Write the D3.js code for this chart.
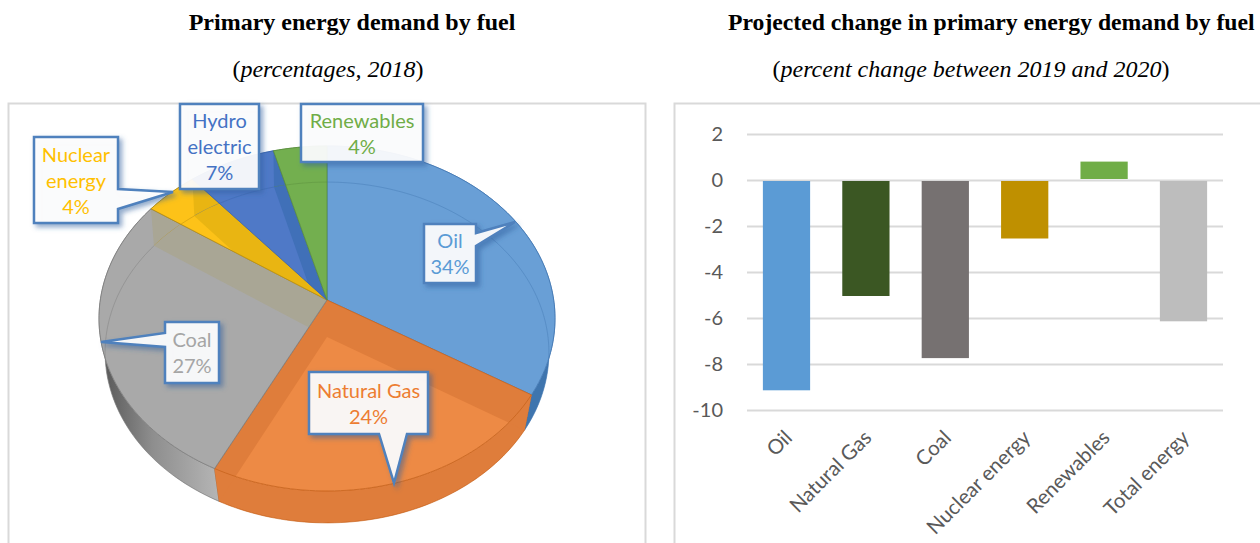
<!DOCTYPE html>
<html><head><meta charset="utf-8">
<script src="https://cdn.jsdelivr.net/npm/d3@7"></script>
<style>html,body{margin:0;padding:0;background:#fff;overflow:hidden}svg{display:block}
.cal{font-family:Lato,"Open Sans",sans-serif}
.ti{font-family:"Liberation Serif",serif;font-size:24px;fill:#000}
</style></head><body>
<svg id="c" width="1260" height="543"></svg>
<script>
// ---- data ----
const pieFuels = ["Oil","Natural Gas","Coal","Nuclear energy","Hydro electric","Renewables"];
const pieShares = [33.8,23.6,27.2,4.3,6.9,4.2];
const barFuels = ["Oil","Natural Gas","Coal","Nuclear energy","Renewables","Total energy"];
const barChanges = [-9.1,-5.0,-7.7,-2.5,0.8,-6.1];
const yTicks = [2,0,-2,-4,-6,-8,-10];

// ---- styles ----
const pieStyle = {
 "Oil":{top:"#699fd6",side:"#3f75ae",rim:"#4479b4",label:"#5b9bd5"},
 "Natural Gas":{top:"#ed8a45",side:"#df7d3b",rim:"#c9651f",label:"#ed7d31",band:"#df7d3b"},
 "Coal":{top:"#a9a9a9",side:"url(#coalSide)",rim:"#7f7f7f",label:"#a5a5a5",band:"#a9a695"},
 "Nuclear energy":{top:"#fdc218",side:"#d9a50c",rim:"#b98f10",label:"#ffc000",band:"#e9b512"},
 "Hydro electric":{top:"#4f79c7",side:"#3a64ad",rim:"#3c66ae",label:"#4472c4",band:"#4070b8"},
 "Renewables":{top:"#73af4f",side:"#5f9440",rim:"#5b8f3e",label:"#70ad47"}
};
const barColors = ["#5b9bd5","#3b5723","#767171","#bf9000","#70ad47","#bdbdbd"];

const svg = d3.select("#c");
const defs = svg.append("defs");
const f = defs.append("filter").attr("id","sh").attr("x","-30%").attr("y","-30%").attr("width","170%").attr("height","170%");
f.append("feDropShadow").attr("dx",3).attr("dy",3).attr("stdDeviation",2.5).attr("flood-color","#2f5f9c").attr("flood-opacity",.55);
const g0 = defs.append("linearGradient").attr("id","coalSide").attr("gradientUnits","userSpaceOnUse")
  .attr("x1",100).attr("x2",217).attr("y1",0).attr("y2",0);
g0.append("stop").attr("offset",0).attr("stop-color","#555");
g0.append("stop").attr("offset",.45).attr("stop-color","#8e8e8e");
g0.append("stop").attr("offset",1).attr("stop-color","#b4b4b4");

// ---- titles ----
const title=(x,y,parts,bold)=>{const t=svg.append("text").attr("class","ti").attr("x",x).attr("y",y).attr("text-anchor","middle");
 parts.forEach(p=>t.append("tspan").text(p[0]).attr("font-style",p[1]?"italic":"normal").attr("font-weight",bold?"bold":"normal"));};
title(352,30,[["Primary energy demand by fuel",0]],true);
title(328,77,[["(",0],["percentages, 2018",1],[")",0]]);
svg.append("text").attr("class","ti").attr("x",728).attr("y",30).attr("font-weight","bold").style("font-size","23.7px").text("Projected change in primary energy demand by fuel");
title(971,77,[["(",0],["percent change between 2019 and 2020",1],[")",0]]);

// ---- panels ----
svg.append("rect").attr("x",8.5).attr("y",103.5).attr("width",637).attr("height",460).attr("fill","#fff").attr("stroke","#d9d9d9").attr("stroke-width",2);
svg.append("rect").attr("x",674.5).attr("y",103.5).attr("width",640).attr("height",460).attr("fill","#fff").attr("stroke","#d9d9d9").attr("stroke-width",2);

// ---- 3D pie: perspective projection of a disc ----
const proj=(cx,cy,A,B,c)=>a=>{const u=Math.sin(a),v=-Math.cos(a),d=1-c*v;return [cx+A*u/d,cy+B*v/d];};
const topP=proj(327,300,226.7,170.5,.1071), botP=proj(327,337,221,169,.0909);
const apexT=[327,300], apexB=[327,337];
const arcs=d3.pie().sort(null)(pieShares).map((d,i)=>({...d,name:pieFuels[i]}));
const line=d3.line();
const samples=(a0,a1,fn)=>{const n=Math.max(6,Math.ceil((a1-a0)*40));return d3.range(n+1).map(i=>fn(a0+(a1-a0)*i/n));};
const topPath=d=>line([apexT,...samples(d.startAngle,d.endAngle,topP)])+"Z";
const sidePath=d=>line([...samples(d.startAngle,d.endAngle,topP),...samples(d.startAngle,d.endAngle,botP).reverse()])+"Z";
const pg=svg.append("g");

// side walls: back to front
["Oil","Coal","Natural Gas","Renewables","Hydro electric","Nuclear energy"].forEach(n=>{
 const d=arcs.find(a=>a.name===n),s=pieStyle[n];
 pg.append("path").attr("d",sidePath(d)).attr("fill",s.side).attr("stroke",s.rim).attr("stroke-width",.6);
});
// top faces + see-through bands
arcs.forEach((d,i)=>{
 const s=pieStyle[d.name];
 const cid="clip"+i;
 const cp=defs.append("clipPath").attr("id",cid);
 cp.append("path").attr("d",topPath(d));
 cp.append("path").attr("d",sidePath(d));
 pg.append("path").attr("d",topPath(d)).attr("fill",s.top);
 const sg=pg.append("g").attr("clip-path",`url(#${cid})`);
 // wall seen through the face, along each radial edge
 if(s.band){
  const band=a=>line([apexT,topP(a),botP(a),apexB])+"Z";
  const edges=d.name==="Natural Gas"?[d.startAngle,d.endAngle]:[d.endAngle];
  edges.forEach(a=>sg.append("path").attr("d",band(a)).attr("fill",s.band));
 }
 // far rim of the lower face, seen through
 sg.append("path").attr("d",line(samples(d.startAngle,d.endAngle,botP))).attr("fill","none")
   .attr("stroke",s.rim).attr("stroke-opacity",.45).attr("stroke-width",1);
 pg.append("path").attr("d",topPath(d)).attr("fill","none").attr("stroke",s.rim).attr("stroke-width",1).attr("stroke-opacity",.85);
});

// ---- callouts ----
const callouts=[
 {name:"Nuclear energy",lines:["Nuclear","energy","4%"],x:34,y:137,w:84,h:86,side:"r",b0:52,b1:72,tip:[173,192]},
 {name:"Hydro electric",lines:["Hydro","electric","7%"],x:180,y:104,w:79,h:85},
 {name:"Renewables",lines:["Renewables","4%"],x:301,y:104,w:122,h:58},
 {name:"Oil",lines:["Oil","34%"],x:424,y:224,w:52,h:59,side:"r",b0:9,b1:22,tip:[515,222]},
 {name:"Coal",lines:["Coal","27%"],x:165,y:322,w:54,h:61,side:"l",b0:11,b1:25,tip:[101,342]},
 {name:"Natural Gas",lines:["Natural Gas","24%"],x:309,y:372,w:119,h:62,side:"b",b0:70,b1:98,tip:[394,483]}
];
const share=Object.fromEntries(pieFuels.map((n,i)=>[n,Math.round(pieShares[i])]));
callouts.forEach(c=>{
 const {x,y,w,h}=c, pts=[[x,y],[x+w,y]];
 if(c.side==="r")pts.push([x+w,y+c.b0],c.tip,[x+w,y+c.b1]);
 pts.push([x+w,y+h]);
 if(c.side==="b")pts.push([x+c.b1,y+h],c.tip,[x+c.b0,y+h]);
 pts.push([x,y+h]);
 if(c.side==="l")pts.push([x,y+c.b1],c.tip,[x,y+c.b0]);
 svg.append("path").attr("d",line(pts)+"Z").attr("fill","#fff").attr("fill-opacity",.91)
   .attr("stroke","#4f81bd").attr("stroke-width",2.5).attr("stroke-linejoin","miter").attr("filter","url(#sh)");
 const lh=26, y0=y+h/2-(c.lines.length-1)*lh/2+7.5;
 c.lines.forEach((t,i)=>svg.append("text").attr("class","cal").attr("x",x+w/2).attr("y",y0+i*lh)
   .attr("text-anchor","middle").attr("font-size",20).attr("fill",pieStyle[c.name].label)
   .text(i===c.lines.length-1?share[c.name]+"%":t));
});

// ---- bar chart ----
const x=d3.scaleBand().domain(barFuels).range([747,1223]).paddingInner(.405).paddingOuter(.2);
const y=d3.scaleLinear().domain([-10,2]).range([410,134]);
const yAx=svg.append("g").attr("transform","translate(747,0)")
  .call(d3.axisLeft(y).tickValues(yTicks).tickSize(-476).tickPadding(24).tickFormat(d3.format("d")));
yAx.select(".domain").remove();
yAx.selectAll("line").attr("stroke","#d9d9d9").attr("stroke-width",2);
yAx.selectAll("text").attr("class","cal").attr("font-size",20).attr("fill","#595959").attr("dy","0.34em").text(d=>String(d));
svg.append("g").selectAll("rect").data(barFuels).join("rect")
  .attr("x",d=>x(d)).attr("width",x.bandwidth())
  .attr("y",(d,i)=>barChanges[i]>0?y(barChanges[i]):y(0)+1)
  .attr("height",(d,i)=>barChanges[i]>0?y(0)-y(barChanges[i])-1:y(barChanges[i])-y(0))
  .attr("fill",(d,i)=>barColors[i]);
const xAx=svg.append("g").attr("transform","translate(0,410)").call(d3.axisBottom(x).tickSize(0));
xAx.select(".domain").remove();
xAx.selectAll("text").attr("class","cal").attr("font-size",20.5).attr("fill","#595959")
  .attr("text-anchor","end").attr("dy",0).attr("y",0)
  .attr("transform","translate(7,29) rotate(-45)");
</script></body></html>
